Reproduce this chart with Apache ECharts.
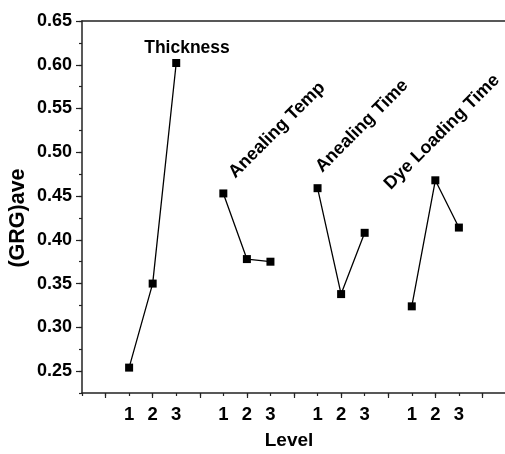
<!DOCTYPE html>
<html><head><meta charset="utf-8">
<script src="https://cdn.jsdelivr.net/npm/echarts@6/dist/echarts.min.js"></script>
<style>html,body{margin:0;padding:0;background:#fff}#c{width:505px;height:454px}</style>
</head><body><div id="c"></div>
<script>
var levels = [1, 2, 3];
var factorNames = ['Thickness', 'Anealing Temp', 'Anealing Time', 'Dye Loading Time'];
var thickness = [0.254, 0.350, 0.602];
var anealingTemp = [0.453, 0.378, 0.375];
var anealingTime = [0.459, 0.338, 0.408];
var dyeLoadingTime = [0.324, 0.468, 0.414];
var yTickLabels = [0.25, 0.30, 0.35, 0.40, 0.45, 0.50, 0.55, 0.60, 0.65];

var groups = [thickness, anealingTemp, anealingTime, dyeLoadingTime];
var FONT = 'Liberation Sans, Arial, sans-serif';

function groupData(g, vals) {
  return vals.map(function (v, i) { return [g * 4 + levels[i] + 1, v]; });
}

var series = groups.map(function (vals, g) {
  return {
    type: 'line', name: factorNames[g], xAxisIndex: 0, yAxisIndex: 0,
    data: groupData(g, vals),
    symbol: 'rect', symbolSize: 8,
    lineStyle: { color: '#000', width: 1.3 },
    itemStyle: { color: '#000' },
    animation: false
  };
});

var chart = echarts.init(document.getElementById('c'), null, { renderer: 'canvas' });
chart.setOption({
  animation: false,
  grid: { left: 82, top: 21, width: 424, height: 372, outerBoundsMode: 'none', containLabel: false, show: false },
  xAxis: [{
    type: 'value', min: 0, max: 18, interval: 1, position: 'bottom',
    name: 'Level', nameLocation: 'middle', nameGap: 38,
    nameTextStyle: { fontFamily: FONT, fontWeight: 'bold', fontSize: 19, color: '#000', padding: [0, 10, 0, 0] },
    axisLine: { show: true, lineStyle: { color: '#222', width: 1.5 } },
    axisTick: { show: true, inside: false, length: 3, lineStyle: { color: '#222', width: 1.2 } },
    splitLine: { show: false },
    axisLabel: {
      show: true, margin: 12, fontFamily: FONT, fontWeight: 'bold', fontSize: 18.5, color: '#000',
      showMinLabel: true, showMaxLabel: true, hideOverlap: false,
      formatter: function (v) {
        if (v < 2 || v > 16) return '';
        var lv = (v - 2) % 4;
        return lv < 3 ? String(levels[lv]) : '';
      }
    }
  }, {
    type: 'value', min: 0, max: 18, position: 'bottom',
    axisLine: { show: false },
    axisTick: { show: true, length: 5, customValues: [1, 3, 5, 7, 9, 11, 13, 15, 17], lineStyle: { color: '#222', width: 1.2 } },
    axisLabel: { show: false }, splitLine: { show: false }
  }, {
    type: 'value', min: 0, max: 18, position: 'top',
    axisLine: { show: true, onZero: false, lineStyle: { color: '#222', width: 1.5 } },
    axisTick: { show: false }, axisLabel: { show: false }, splitLine: { show: false }
  }],
  yAxis: [{
    type: 'value', min: 0.225, max: 0.65, interval: 0.025,
    axisLine: { show: true, lineStyle: { color: '#222', width: 1.5 } },
    axisTick: { show: true, length: 3, lineStyle: { color: '#222', width: 1.2 } },
    splitLine: { show: false },
    axisLabel: {
      margin: 10, fontFamily: FONT, fontWeight: 'bold', fontSize: 18, color: '#000',
      formatter: function (v) {
        var r = Math.round(v * 1000);
        if (r % 50 !== 0) return '';
        return (r / 1000).toFixed(2);
      }
    }
  }, {
    type: 'value', min: 0.225, max: 0.65, position: 'left',
    axisLine: { show: false },
    axisTick: { show: true, length: 6, customValues: yTickLabels, lineStyle: { color: '#222', width: 1.2 } },
    axisLabel: { show: false }, splitLine: { show: false }
  }],
  graphic: [
    { type: 'text', x: 18, y: 218, rotation: Math.PI / 2, style: { text: '(GRG)ave', font: 'bold 21.5px ' + FONT, fill: '#000', align: 'center', verticalAlign: 'middle' } },
    { type: 'text', x: 187, y: 48, style: { text: factorNames[0], font: 'bold 17.5px ' + FONT, fill: '#000', align: 'center', verticalAlign: 'middle' } },
    { type: 'text', x: 277, y: 130, rotation: Math.PI / 4, style: { text: factorNames[1], font: 'bold 18px ' + FONT, fill: '#000', align: 'center', verticalAlign: 'middle' } },
    { type: 'text', x: 362, y: 126, rotation: Math.PI / 4, style: { text: factorNames[2], font: 'bold 18px ' + FONT, fill: '#000', align: 'center', verticalAlign: 'middle' } },
    { type: 'text', x: 442, y: 132, rotation: Math.PI / 4, style: { text: factorNames[3], font: 'bold 18px ' + FONT, fill: '#000', align: 'center', verticalAlign: 'middle' } }
  ],
  series: series
});
</script>
</body></html>
